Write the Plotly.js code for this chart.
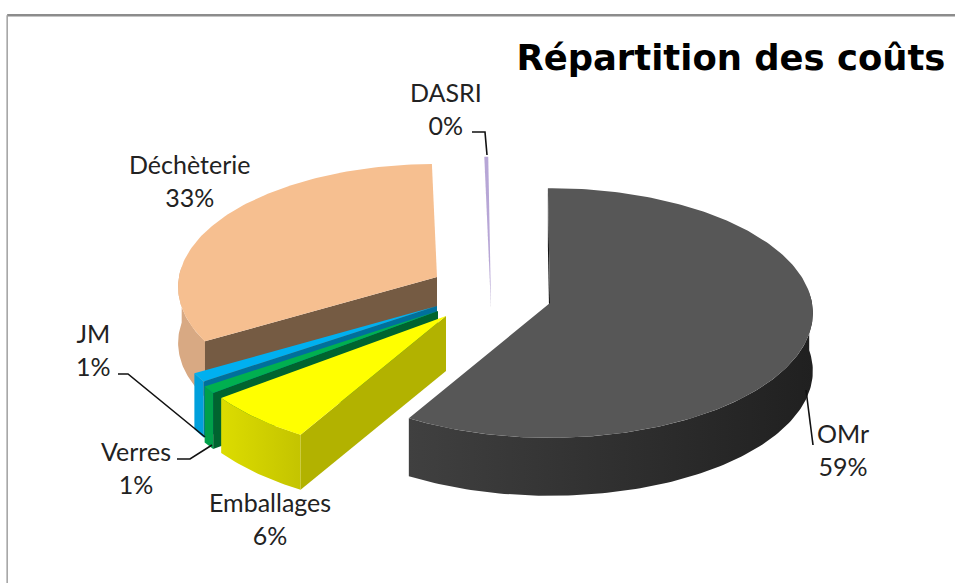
<!DOCTYPE html>
<html>
<head>
<meta charset="utf-8">
<script src="https://cdn.plot.ly/plotly-3.0.1.min.js"></script>
<style>html,body{margin:0;padding:0;background:#fff}#c{width:955px;height:583px}</style>
</head>
<body>
<div id="c"></div>
<script>
// Data, clockwise from 12 o'clock
const categories = ["OMr", "Emballages", "Verres", "JM", "Déchèterie", "DASRI"];
const shares = [58.5, 6.2, 0.9, 1.1, 33.1, 0.2];

// Style per slice
const topColors = ["#575757", "#ffff00", "#00b050", "#00b0f0", "#f6bf90", "#b7a6d6"];
const cutColors = ["#141414", "#b2b200", "#00642f", "#00709c", "#755b43", "#3c3454"];
const rimLeft   = ["#404040", "#dcdc00", "#00a04a", "#00a0dc", "#d8a983", "#8a7aa8"];
const rimRight  = ["#202020", "#c4c400", "#00a04a", "#00a0dc", "#d8a983", "#8a7aa8"];
const apexX = [550, 446, 438, 437, 437, 491];
const apexY = [303, 316, 311, 306, 277, 306];
const scales = [1, 1.03, 1.03, 1.03, 0.985, 1.3];
const depths = [58, 55, 56, 56, 56, 1];
const labelX = [843, 270, 136, 93, 189, 446];
const labelY = [449, 518, 467, 349, 180, 108];

const leaderX = [[472, 485, 487], [118, 128, 205], [177, 190, 212], [806, 813]];
const leaderY = [[132, 132, 155], [374, 374, 437], [459, 459, 445], [390, 445]];

const ROT = -0.5, A = 262, B = 124, K = 0.08;

function project(i, deg) {
  const t = deg * Math.PI / 180, X = Math.sin(t), Y = Math.cos(t), w = 1 + K * Y;
  return [apexX[i] + scales[i] * A * X / w, apexY[i] - scales[i] * B * Y / w];
}
function arc(i, a0, a1) {
  const n = Math.max(2, Math.ceil(Math.abs(a1 - a0))), p = [];
  for (let k = 0; k <= n; k++) p.push(project(i, a0 + (a1 - a0) * k / n));
  return p;
}
function poly(points, extra) {
  return Object.assign({
    x: points.map(p => p[0]), y: points.map(p => p[1]),
    type: "scatter", mode: "lines", line: {width: 0}, fill: "toself",
    hoverinfo: "skip", showlegend: false
  }, extra);
}

const total = shares.reduce((a, b) => a + b, 0);
let running = ROT;
const bounds = shares.map(v => { const a = running; running += v / total * 360; return [a, running]; });

const traces = [];
for (let i = categories.length - 1; i >= 0; i--) {
  const [a0, a1] = bounds[i];
  const d = depths[i];
  // outer wall, only its front-facing part
  const r0 = Math.max(a0, 85), r1 = Math.min(a1, 275);
  if (r1 > r0) {
    const up = arc(i, r0, r1);
    const down = up.slice().reverse().map(p => [p[0], p[1] + d]);
    traces.push(poly(up.concat(down), {
      fillcolor: rimLeft[i],
      fillgradient: {type: "horizontal", colorscale: [[0, rimLeft[i]], [1, rimRight[i]]]}
    }));
  }
  // cut face at the start of the slice
  const c = project(i, a0), ax = apexX[i], ay = apexY[i];
  traces.push(poly([[ax, ay], c, [c[0], c[1] + d], [ax, ay + d]], {fillcolor: cutColors[i]}));
  // top face
  traces.push(poly([[ax, ay]].concat(arc(i, a0, a1)), {fillcolor: topColors[i]}));
}
leaderX.forEach((lx, i) => traces.push({
  x: lx, y: leaderY[i], type: "scatter", mode: "lines",
  line: {color: "#111", width: 1.6}, hoverinfo: "skip", showlegend: false
}));

const annotations = categories.map((name, i) => ({
  x: labelX[i], y: labelY[i], xref: "x", yref: "y", showarrow: false,
  text: name + "<br>" + Math.round(shares[i]) + "%",
  font: {family: "Lato, sans-serif", size: 25, color: "#222"}, align: "center"
}));

Plotly.newPlot("c", traces, {
  width: 955, height: 583, margin: {l: 0, r: 0, t: 0, b: 0},
  paper_bgcolor: "#fff", plot_bgcolor: "#fff", showlegend: false,
  title: {text: "<b>Répartition des coûts</b>", x: 0.99, xanchor: "right", y: 0.902, yanchor: "middle",
          font: {family: "DejaVu Sans, sans-serif", size: 35.4, color: "#000"}},
  xaxis: {range: [0, 955], visible: false, fixedrange: true},
  yaxis: {range: [583, 0], visible: false, fixedrange: true},
  annotations,
  shapes: [
    {type: "line", xref: "paper", yref: "paper", x0: 0.0075, x1: 1, y0: 0.974, y1: 0.974, line: {color: "#8c8c8c", width: 2.5}},
    {type: "line", xref: "paper", yref: "paper", x0: 0.0075, x1: 0.0075, y0: 0, y1: 0.974, line: {color: "#a0a0a0", width: 1.5}}
  ]
}, {displayModeBar: false, staticPlot: true});
</script>
</body>
</html>
